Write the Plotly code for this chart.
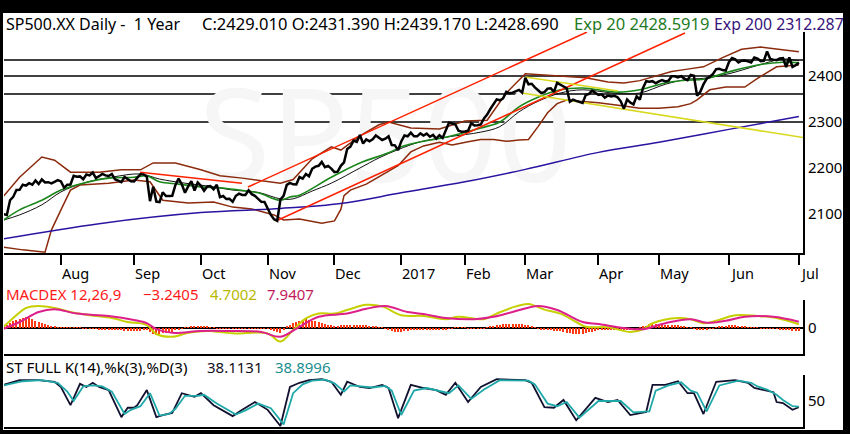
import plotly.graph_objects as go

# trading-day index: 0 = 6 Jul 2016 ... 250 = 3 Jul 2017
close = [
    2099.73, 2097.90, 2129.90, 2137.16, 2152.14, 2152.43, 2163.75, 2161.74, 2166.89, 2163.78,
    2173.02, 2165.17, 2175.03, 2168.48, 2169.18, 2166.58, 2170.06, 2173.60,
    2170.84, 2157.03, 2163.79, 2164.25, 2182.87, 2180.89, 2181.74, 2175.49, 2185.79, 2184.05,
    2190.15, 2178.15, 2182.22, 2187.02, 2183.87, 2182.64, 2186.90, 2175.44, 2172.47, 2169.04,
    2180.38, 2176.12, 2170.95,
    2170.86, 2179.98, 2186.48, 2186.16, 2181.30, 2127.81, 2159.04, 2127.02, 2125.77, 2147.26,
    2139.16, 2139.12, 2139.76, 2163.12, 2177.18, 2164.69, 2146.10, 2159.93, 2171.37, 2151.13,
    2168.27,
    2161.20, 2150.49, 2159.73, 2160.77, 2153.74, 2163.66, 2136.73, 2139.18, 2132.55, 2132.98,
    2126.50, 2139.60, 2144.29, 2141.34, 2141.16, 2151.33, 2143.16, 2139.43, 2133.04, 2126.41,
    2126.15,
    2111.72, 2097.94, 2088.66, 2085.18, 2131.52, 2139.56, 2163.26, 2167.48, 2164.45, 2164.20,
    2180.39, 2176.94, 2187.12, 2181.90, 2198.18, 2202.94, 2204.72, 2213.35, 2201.72, 2204.66,
    2198.81,
    2191.08, 2191.95, 2204.71, 2212.23, 2241.35, 2246.19, 2259.53, 2256.96, 2271.72, 2253.28,
    2262.03, 2258.07, 2262.53, 2270.76, 2265.18, 2260.96, 2263.79, 2268.88, 2249.92, 2249.26,
    2238.83,
    2257.83, 2270.75, 2269.00, 2276.98, 2268.90, 2268.90, 2275.32, 2270.44, 2274.64, 2267.89,
    2271.89, 2263.69, 2271.31, 2265.20, 2280.07, 2298.37, 2296.68, 2294.69, 2280.90, 2278.87,
    2279.55, 2280.85, 2297.42, 2292.56, 2293.08, 2294.67, 2307.87, 2316.10, 2328.25, 2337.58,
    2349.25, 2347.22, 2351.16, 2365.38, 2362.82, 2363.81, 2367.34, 2369.75, 2363.64,
    2395.96, 2381.92, 2383.12, 2375.31, 2368.39, 2362.98, 2364.87, 2372.60, 2373.47, 2365.45,
    2385.26, 2381.38, 2378.25, 2373.47, 2344.02, 2348.45, 2345.96, 2343.98, 2341.59, 2358.57,
    2361.13, 2368.06, 2362.72,
    2358.84, 2360.16, 2352.95, 2357.49, 2355.54, 2357.16, 2353.78, 2344.93, 2328.95, 2349.01,
    2342.19, 2338.17, 2355.84, 2348.69, 2374.15, 2388.61, 2387.45, 2388.77, 2384.20,
    2388.33, 2391.17, 2388.13, 2389.52, 2399.29, 2399.38, 2396.92, 2399.63, 2394.44, 2390.90,
    2402.32, 2400.67, 2357.03, 2365.72, 2381.73, 2394.02, 2398.42, 2404.39, 2415.07, 2415.82,
    2412.91, 2411.80,
    2430.06, 2439.07, 2436.10, 2429.33, 2433.14, 2433.79, 2431.77, 2429.39, 2440.35, 2437.92,
    2432.46, 2433.15, 2453.46, 2437.03, 2435.61, 2434.50, 2438.30, 2439.07, 2419.38, 2440.69,
    2419.70, 2423.41,
    2429.01,
]

ema20_idx = [0, 5, 12, 18, 25, 33, 41, 45, 49, 55, 62, 68, 74, 80, 87, 90, 93, 103, 112, 121,
             125, 131, 139, 150, 156, 162, 168, 175, 182, 193, 200, 208, 215, 220, 228, 237, 245, 250]
ema20_val = [2087, 2109, 2130, 2152, 2167, 2178, 2180, 2183, 2170, 2165, 2159, 2157, 2152, 2146, 2130, 2137, 2141, 2180, 2211, 2233,
             2246, 2257, 2267, 2287, 2300, 2333, 2354, 2370, 2374, 2365, 2370, 2385, 2391, 2393, 2409, 2424, 2430, 2429]

sma20_idx = [0, 5, 12, 18, 25, 34, 43, 49, 57, 65, 72, 80, 87, 91, 97, 103, 112, 118, 124, 131,
             140, 150, 156, 162, 168, 175, 182, 193, 200, 208, 215, 220, 228, 237, 245, 250]
sma20_val = [2087, 2098, 2120, 2148, 2167, 2180, 2187, 2176, 2167, 2160, 2152, 2147, 2133, 2133, 2150, 2167, 2200, 2222, 2240, 2257,
             2268, 2278, 2290, 2322, 2345, 2363, 2370, 2362, 2363, 2382, 2393, 2395, 2405, 2423, 2437, 2433]

bb_up_idx = [0, 5, 12, 16, 21, 30, 37, 43, 47, 54, 62, 68, 75, 83, 87, 91, 97, 103, 106, 112,
             118, 121, 128, 137, 145, 152, 158, 164, 170, 176, 183, 190, 195, 200, 205, 210, 215, 220,
             226, 232, 238, 245, 250]
bb_up_val = [2139, 2180, 2224, 2217, 2191, 2191, 2196, 2196, 2211, 2211, 2196, 2183, 2178, 2170, 2167, 2175, 2220, 2246, 2239, 2270,
             2294, 2300, 2287, 2285, 2302, 2304, 2363, 2405, 2402, 2398, 2396, 2387, 2385, 2390, 2400, 2410, 2415, 2420,
             2440, 2458, 2463, 2458, 2453]

bb_lo_idx = [0, 6, 13, 15, 18, 21, 24, 33, 41, 46, 48, 50, 58, 66, 72, 78, 85, 88, 93, 100,
             104, 106, 107, 109, 114, 119, 124, 128, 132, 137, 141, 146, 150, 154, 158, 162, 165, 168,
             171, 174, 177, 181, 187, 195, 200, 206, 212, 216, 218, 222, 227, 233, 237, 243, 250]
bb_lo_val = [2028, 2022, 2017, 2065, 2109, 2152, 2163, 2167, 2174, 2170, 2150, 2130, 2124, 2126, 2115, 2111, 2098, 2087, 2089, 2080,
             2085, 2110, 2140, 2152, 2165, 2185, 2205, 2235, 2248, 2256, 2250, 2257, 2262, 2262, 2258, 2261, 2262, 2290,
             2320, 2340, 2348, 2345, 2342, 2335, 2330, 2330, 2333, 2340, 2348, 2370, 2376, 2376, 2395, 2420, 2424]

ema200_idx = [0, 30, 62, 87, 106, 125, 145, 164, 187, 206, 228, 250]
ema200_val = [2046, 2079, 2103, 2112, 2123, 2146, 2170, 2197, 2234, 2256, 2284, 2312]

# drawn lines: (idx0, price0, idx1, price1)
red_lines = [(76.8, 2158.7, 183.4, 2495.7), (86.3, 2087.0, 214.2, 2493.5), (42.9, 2191.0, 74.9, 2167.0)]
yellow_lines = [(164.0, 2398.0, 193.1, 2367.4), (163.0, 2363.0, 251.5, 2266.0)]
levels = [2435, 2400, 2361, 2300]

macd_idx = [0, 4, 7, 11, 16, 21, 27, 34, 39, 45, 48, 53, 58, 64, 72, 83, 87, 91, 95, 99,
            104, 108, 114, 119, 125, 132, 139, 143, 151, 155, 161, 165, 170, 175, 180, 183, 190, 197, 201, 204,
            212, 216, 220, 224, 230, 237, 243, 250]
macd_val = [1.6, 16, 25, 27.5, 25, 20, 16, 12.5, 7.5, 3.7, -7.5, -11, -6, -3.7, -6.7, -6.7, -17, -2.5, 12, 18,
            18, 22.5, 29, 27, 16, 15, 11, 14, 11, 18, 27, 30, 23, 18, 7.5, 1.5, 1, -5, -1.5, 6,
            12.5, 11, 6, 9, 16, 15, 12.5, 4.7]

signal_idx = [0, 5, 11, 16, 23, 33, 41, 45, 48, 53, 62, 70, 81, 87, 93, 99, 108, 114, 120, 127,
              132, 139, 148, 154, 160, 168, 174, 182, 187, 195, 201, 208, 216, 221, 227, 233, 242, 250]
signal_val = [-1, 7.5, 20, 23.5, 18, 15, 10, 6, -1.5, -6, -3.7, -3.7, -5, -11, 1.5, 14, 18, 24, 27.5, 20,
              17.5, 12.5, 11, 14, 20, 27.5, 22.5, 7.5, 5, 0, -1.5, 6, 11, 6.5, 9, 14, 14, 7.9]

hist = [
    2.6, 4.3, 6.6, 8.5, 10.2, 11.5, 12.4, 13.3, 12.2, 10.7,
    9, 7.5, 6, 4.5, 3.2, 2.2, 1.5, 1, 0.7, 0.5,
    0.3, 0.5, 0.5, 0.7, 0.3, -0.1, -0.3, -0.7, -0.9, -1.1,
    -1.3, -1.5, -1.7, -1.7, -1.6, -2, -2.4, -2.8, -3.3, -3.7,
    -4.1, -4, -3.7, -3.4, -3.1, -2.7, -5.2, -7, -8.4, -7.3,
    -6.4, -5.7, -5.1, -4.6, -2.9, -1.5, -0.4, 0.5, 1.2, 1.3,
    1.4, 1.4, 1.4, 1.4, 1.4, 0.8, 0.3, -0.1, -0.4, -0.6,
    -0.8, -0.9, -1, -0.8, -0.6, -0.5, -0.4, -0.3, -0.2, -0.2,
    -0.1, -0.1, -0.1, -0.1, -1.9, -3.9, -5.5, -6, -1.6, 1.5,
    4, 6, 7.6, 8.9, 10.2, 11.1, 10.1, 9.3, 8.6, 8.1,
    6.5, 5.2, 4.2, 3.4, 2.7, 3, 3.3, 3.5, 3.8, 3.9,
    4.1, 4.2, 4.2, 4.2, 4.2, 3, 2.1, 1.4, 0.8, 0.3,
    -1.1, -2.5, -3.5, -4.4, -5, -5, -4.2, -3.5, -3, -2.6,
    -2.2, -1.9, -1.6, -1.8, -1.8, -1.9, -2, -2.1, -2.1, -2.2,
    -1.1, -0.3, 0.4, 0.9, 0.4, 0.1, -0.2, -0.5, -0.7, -0.8,
    -1, -1.1, 0.6, 1.8, 2.9, 3.7, 4.1, 4.5, 4.8, 5,
    5.2, 5.4, 5.1, 4.9, 4.3, 3.8, 1.9, 0.4, -0.8, -1.7,
    -2.5, -2.8, -3, -3.2, -3.4, -3.5, -4.8, -5.8, -6.7, -6.9,
    -7.2, -7.3, -7.5, -6.8, -5.4, -4.6, -3.8, -3.1, -2.3, -2,
    -1.6, -1.9, -2.2, -2.4, -2.6, -2.7, -2.8, -2.9, -2.6, -1.3,
    0.2, 1.4, 3.1, 4.5, 5.2, 5, 4.6, 4.3, 4.1, 3.9,
    3.8, 3.7, 3.5, 2.5, 1.8, 1.1, 0.6, -0.4, -1.4, -2.2,
    -2.5, -1.8, -1.1, -0.1, 0.5, 1.4, 2.3, 3.1, 3.7, 3.7,
    3.4, 2.7, 2, 1.5, 1, 0.8, 0.4, 0.2, -0.2, -0.4,
    -0.7, -0.8, -1, -1.2, -1.8, -2.2, -2.6, -3, -3.5, -3.7,
    -3.2,
]

stk_idx = [0, 5, 11, 16, 18, 21, 24, 26, 28, 30, 33, 37, 39, 41, 42, 45, 48, 50, 53, 56,
           60, 62, 66, 72, 75, 79, 83, 87, 90, 93, 96, 100, 103, 106, 108, 112, 115, 119, 121, 124,
           128, 132, 136, 139, 142, 146, 150, 155, 164, 166, 170, 173, 176, 180, 186, 190, 193, 197, 202, 204,
           208, 212, 215, 217, 220, 224, 230, 234, 236, 239, 242, 243, 245, 248, 250]
stk_val = [81, 90, 90, 87, 77, 42, 83, 77, 85, 77, 71, 19, 37, 37, 42, 71, 19, 23, 27, 65,
           58, 65, 42, 21, 33, 48, 33, 2, 77, 85, 90, 92, 87, 62, 87, 77, 75, 81, 75, 17,
           81, 75, 71, 62, 85, 48, 77, 92, 90, 85, 38, 37, 52, 13, 56, 48, 52, 23, 29, 81,
           81, 88, 65, 65, 25, 87, 90, 85, 75, 71, 67, 48, 46, 33, 38]

std_idx = [0, 6, 12, 17, 20, 22, 25, 28, 31, 34, 38, 40, 43, 46, 49, 52, 54, 57, 61, 63,
           67, 73, 76, 80, 84, 88, 91, 94, 97, 101, 104, 107, 109, 113, 116, 120, 122, 125, 129, 133,
           137, 140, 143, 147, 151, 156, 165, 167, 171, 174, 177, 181, 187, 191, 194, 198, 203, 205, 209, 213,
           216, 218, 221, 225, 231, 235, 237, 240, 243, 245, 248, 250]
std_val = [80, 88, 90, 85, 68, 50, 78, 80, 78, 68, 25, 33, 40, 65, 22, 25, 35, 60, 60, 62,
           45, 24, 32, 45, 36, 5, 65, 82, 89, 91, 84, 68, 80, 78, 76, 79, 70, 23, 70, 75,
           70, 65, 80, 54, 72, 90, 89, 82, 45, 40, 48, 18, 50, 50, 50, 28, 30, 70, 80, 86,
           70, 66, 30, 80, 89, 85, 78, 72, 62, 52, 40, 39]

month_idx = [18, 41, 62, 83, 104, 125, 145, 164, 187, 206, 228, 250]
month_lbl = ["Aug", "Sep", "Oct", "Nov", "Dec", "2017", "Feb", "Mar", "Apr", "May", "Jun", "Jul"]

W, H = 850, 434
FONT = "Noto Sans"


def fx(p):
    return p / W


def fy(p):
    return 1 - p / H


X_RANGE = [0.1, 251.3]
Y_RANGE = [2015.2, 2495.7]

fig = go.Figure()
days = list(range(len(close)))

# faint watermark
fig.add_trace(go.Scatter(x=[120], y=[2241], mode="text", text=["SP500"],
                         textfont=dict(family=FONT, size=130, color="#f6f6f6"),
                         hoverinfo="skip", xaxis="x", yaxis="y"))

brown = "#8b2a0c"
fig.add_trace(go.Scatter(x=bb_up_idx, y=bb_up_val, mode="lines", line=dict(color=brown, width=1.5)))
fig.add_trace(go.Scatter(x=bb_lo_idx, y=bb_lo_val, mode="lines", line=dict(color=brown, width=1.5)))
fig.add_trace(go.Scatter(x=ema200_idx, y=ema200_val, mode="lines",
                         line=dict(color="#2c12a0", width=1.5, shape="spline")))
fig.add_trace(go.Scatter(x=sma20_idx, y=sma20_val, mode="lines",
                         line=dict(color="#111111", width=1, shape="spline")))
fig.add_trace(go.Scatter(x=ema20_idx, y=ema20_val, mode="lines",
                         line=dict(color="#1a861a", width=1.6, shape="spline")))

for x0, y0, x1, y1 in red_lines:
    fig.add_trace(go.Scatter(x=[x0, x1], y=[y0, y1], mode="lines", line=dict(color="#ff2200", width=1.5)))
for x0, y0, x1, y1 in yellow_lines:
    fig.add_trace(go.Scatter(x=[x0, x1], y=[y0, y1], mode="lines", line=dict(color="#d8d81c", width=1.5)))

fig.add_trace(go.Scatter(x=days, y=close, mode="lines", line=dict(color="black", width=2.5)))

# MACD panel
fig.add_trace(go.Bar(x=days, y=hist, width=0.35, marker=dict(color="#ff3a12", line=dict(width=0)),
                     xaxis="x2", yaxis="y2"))
fig.add_trace(go.Scatter(x=macd_idx, y=macd_val, mode="lines", line=dict(color="#c6d000", width=2, shape="spline"),
                         xaxis="x2", yaxis="y2"))
fig.add_trace(go.Scatter(x=signal_idx, y=signal_val, mode="lines", line=dict(color="#dd1f8c", width=2, shape="spline"),
                         xaxis="x2", yaxis="y2"))

# stochastic panel
fig.add_trace(go.Scatter(x=stk_idx, y=stk_val, mode="lines", line=dict(color="#121230", width=1.8),
                         xaxis="x3", yaxis="y3"))
fig.add_trace(go.Scatter(x=std_idx, y=std_val, mode="lines", line=dict(color="#1fa8a8", width=1.8),
                         xaxis="x3", yaxis="y3"))

tickfont = dict(family=FONT, size=15, color="black")
xdom = [fx(4), fx(803)]

shapes = [dict(type="rect", xref="paper", yref="paper", x0=fx(3), x1=fx(843), y0=fy(430), y1=fy(13),
               fillcolor="white", line=dict(width=0), layer="below")]
for lv in levels:
    shapes.append(dict(type="line", xref="x domain", yref="y", x0=0, x1=1, y0=lv, y1=lv,
                       line=dict(color="black", width=1.5), layer="below"))


def note(text, x, y, color, size=15):
    return dict(text=text, x=fx(x), y=fy(y), xref="paper", yref="paper", xanchor="left", yanchor="middle",
                showarrow=False, font=dict(family=FONT, size=size, color=color))


annotations = [
    note("SP500.XX Daily -\u00a0\u00a01 Year", 4, 24, "black", 16),
    note("C:2429.010 O:2431.390 H:2439.170 L:2428.690", 200, 24, "black", 16.5),
    note("Exp 20 2428.5919", 572, 24, "#1f7a1f", 16.5),
    note("Exp 200 2312.287", 712, 24, "#35137a", 15.8),
    note("MACDEX 12,26,9", 4, 294, "#ff1a1a"),
    note("\u22123.2405", 141, 294, "#ff1a1a"),
    note("4.7002", 208, 294, "#b8b800"),
    note("7.9407", 265, 294, "#c21a5c"),
    note("ST FULL K(14),%k(3),%D(3)", 4, 367, "black"),
    note("38.1131", 205, 367, "#101020"),
    note("38.8996", 273, 367, "#1a8f8f"),
]
# month labels sit to the right of their tick marks
for m, lbl in zip(month_idx, month_lbl):
    annotations.append(dict(text=lbl, x=m, xref="x", y=fy(273), yref="paper", xanchor="left",
                            yanchor="middle", showarrow=False, xshift=-1,
                            font=dict(family=FONT, size=14.5, color="black")))

axis_common = dict(showgrid=False, zeroline=False, showline=True, linecolor="black", linewidth=2)

fig.update_layout(
    width=W, height=H, margin=dict(l=0, r=0, t=0, b=0),
    paper_bgcolor="black", plot_bgcolor="white",
    showlegend=False, bargap=0,
    shapes=shapes, annotations=annotations,
    xaxis=dict(domain=xdom, range=X_RANGE, anchor="y", tickvals=month_idx, showticklabels=False,
               ticks="outside", ticklen=10, tickwidth=2, tickcolor="black", **axis_common),
    yaxis=dict(domain=[fy(253), fy(32)], range=Y_RANGE, anchor="x", side="right",
               tickvals=[2100, 2200, 2300, 2400], ticks="", tickfont=tickfont, **axis_common),
    xaxis2=dict(domain=xdom, range=X_RANGE, anchor="y2", matches="x", showticklabels=False,
                ticks="", **axis_common),
    yaxis2=dict(domain=[fy(354), fy(300)], range=[-32.5, 35], anchor="x2", side="right",
                tickvals=[0], ticks="", tickfont=tickfont, showgrid=False, showline=True,
                linecolor="black", linewidth=2, zeroline=True, zerolinecolor="black", zerolinewidth=2),
    xaxis3=dict(domain=xdom, range=X_RANGE, anchor="y3", matches="x", showticklabels=False,
                ticks="", **axis_common),
    yaxis3=dict(domain=[fy(427), fy(375)], range=[0, 100], anchor="x3", side="right",
                tickvals=[50], ticks="", tickfont=tickfont, **axis_common),
)

# drop the default page margin so the figure sits flush at the window's corner
fig.write_html("out.html", config={"displayModeBar": False},
               post_script="document.body.style.margin='0';document.body.style.background='black';")
